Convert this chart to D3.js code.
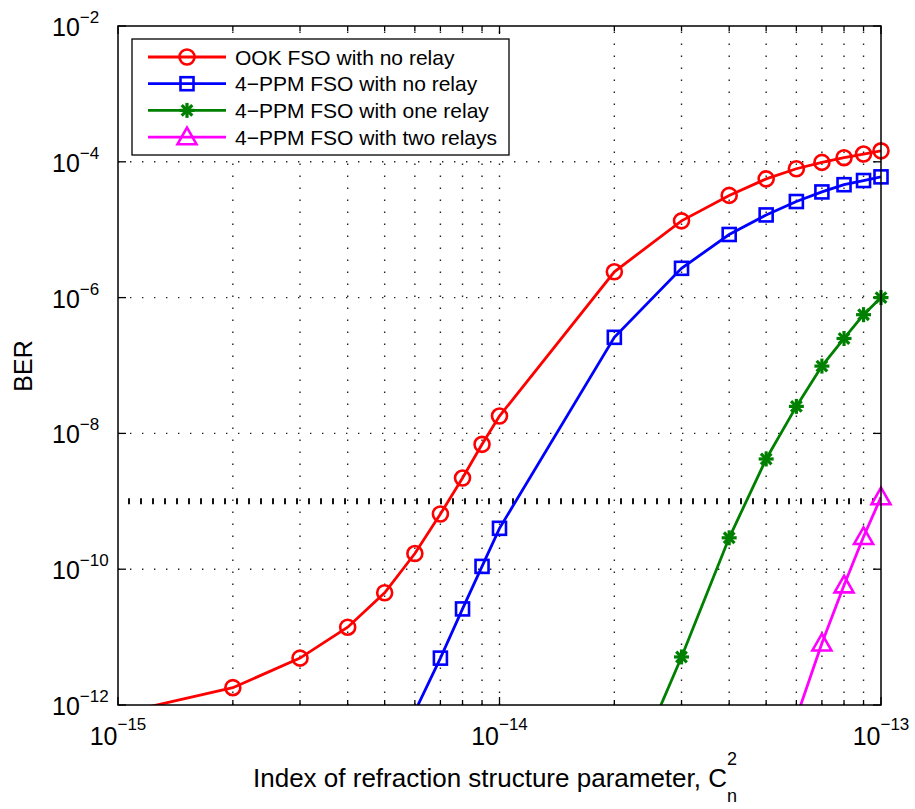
<!DOCTYPE html>
<html>
<head>
<meta charset="utf-8">
<script src="https://cdn.jsdelivr.net/npm/d3@7"></script>
<style>
  body { margin: 0; background: #fff; }
  text { font-family: "Liberation Sans", Arial, sans-serif; fill: #000; }
</style>
</head>
<body>
<script>
// values
const ookX = [1e-15, 2e-15, 3e-15, 4e-15, 5e-15, 6e-15, 7e-15, 8e-15, 9e-15, 1e-14,
              2e-14, 3e-14, 4e-14, 5e-14, 6e-14, 7e-14, 8e-14, 9e-14, 1e-13]
const ookBer = [7.4e-13, 1.8e-12, 4.9e-12, 1.4e-11, 4.5e-11, 1.7e-10, 6.5e-10, 2.2e-9, 6.9e-9, 1.8e-8,
                2.4e-6, 1.35e-5, 3.2e-5, 5.6e-5, 7.9e-5, 9.8e-5, 1.15e-4, 1.3e-4, 1.45e-4]

const ppmX = [6e-15, 7e-15, 8e-15, 9e-15, 1e-14, 2e-14, 3e-14, 4e-14, 5e-14, 6e-14, 7e-14, 8e-14, 9e-14, 1e-13]
const ppmBer = [8e-13, 4.9e-12, 2.6e-11, 1.1e-10, 4.0e-10, 2.6e-7, 2.7e-6, 8.5e-6, 1.65e-5, 2.6e-5, 3.6e-5, 4.6e-5, 5.3e-5, 6.0e-5]

const oneRelayX = [2e-14, 3e-14, 4e-14, 5e-14, 6e-14, 7e-14, 8e-14, 9e-14, 1e-13]
const oneRelayBer = [2.5e-14, 5.1e-12, 2.9e-10, 4.2e-9, 2.5e-8, 9.8e-8, 2.5e-7, 5.6e-7, 1.0e-6]

const twoRelayX = [6e-14, 7e-14, 8e-14, 9e-14, 1e-13]
const twoRelayBer = [6.5e-13, 8.1e-12, 5.8e-11, 3.0e-10, 1.15e-9]

const seriesNames = ['OOK FSO with no relay', '4\u2212PPM FSO with no relay',
                     '4\u2212PPM FSO with one relay', '4\u2212PPM FSO with two relays']
const seriesColors = ['#ff0000', '#0000ff', '#008000', '#ff00ff']
const seriesMarkers = ['circle', 'square', 'star', 'triangle']

const xTickExp = [-15, -14, -13]
const yTickExp = [-2, -4, -6, -8, -10, -12]
const threshold = 1e-9

const width = 915
const height = 809
const margin = {left: 118, top: 26, right: 881, bottom: 705}

const svg = d3.select('body')
    .append('svg')
    .attr('width', width)
    .attr('height', height)

const xScale = d3.scaleLog()
    .domain([1e-15, 1e-13])
    .range([margin.left, margin.right])

const yScale = d3.scaleLog()
    .domain([1e-12, 1e-2])
    .range([margin.bottom, margin.top])

// all x ticks 1..9 per decade
const xAll = []
for (let e = -15; e < -13; e++) {
    for (let m = 1; m < 10; m++) xAll.push(m * Math.pow(10, e))
}
xAll.push(1e-13)
const yMajor = yTickExp.map(e => Math.pow(10, e))

svg.append('clipPath').attr('id', 'plotclip')
    .append('rect')
    .attr('x', margin.left).attr('y', margin.top)
    .attr('width', margin.right - margin.left)
    .attr('height', margin.bottom - margin.top)

// grid
const grid = svg.append('g')
    .attr('stroke', '#222')
    .attr('stroke-width', 1.4)
    .attr('stroke-dasharray', '1.4 10.6')

grid.selectAll('.vg')
    .data(xAll.filter(d => d > 1e-15 && d < 1e-13))
    .join('line')
    .attr('x1', d => xScale(d)).attr('x2', d => xScale(d))
    .attr('y1', margin.bottom).attr('y2', margin.top)

grid.selectAll('.hg')
    .data(yMajor.filter(d => d > 1e-12 && d < 1e-2))
    .join('line')
    .attr('y1', d => yScale(d)).attr('y2', d => yScale(d))
    .attr('x1', margin.left).attr('x2', margin.right)

// 1e-9 threshold line
svg.append('line')
    .attr('x1', margin.left + 10).attr('x2', margin.right)
    .attr('y1', yScale(threshold)).attr('y2', yScale(threshold))
    .attr('stroke', '#111')
    .attr('stroke-width', 6)
    .attr('stroke-dasharray', '2 10')

// ticks (inside, on all four sides)
const ticks = svg.append('g').attr('stroke', '#000').attr('stroke-width', 1.3)
xAll.forEach(d => {
    const major = [1e-15, 1e-14, 1e-13].some(m => Math.abs(d / m - 1) < 1e-6)
    const len = major ? 8 : 5
    ticks.append('line')
        .attr('x1', xScale(d)).attr('x2', xScale(d))
        .attr('y1', margin.bottom).attr('y2', margin.bottom - len)
    ticks.append('line')
        .attr('x1', xScale(d)).attr('x2', xScale(d))
        .attr('y1', margin.top).attr('y2', margin.top + len)
})
yMajor.forEach(d => {
    ticks.append('line')
        .attr('x1', margin.left).attr('x2', margin.left + 8)
        .attr('y1', yScale(d)).attr('y2', yScale(d))
    ticks.append('line')
        .attr('x1', margin.right).attr('x2', margin.right - 8)
        .attr('y1', yScale(d)).attr('y2', yScale(d))
})

// tick labels
xTickExp.forEach(e => {
    const t = svg.append('text')
        .attr('x', xScale(Math.pow(10, e)))
        .attr('y', margin.bottom + 40)
        .attr('text-anchor', 'middle')
        .style('font-size', '25px')
    t.append('tspan').text('10')
    t.append('tspan').attr('dy', -15).style('font-size', '17px').text('\u2212' + Math.abs(e))
})
yTickExp.forEach(e => {
    const t = svg.append('text')
        .attr('x', 52)
        .attr('y', yScale(Math.pow(10, e)) + 10)
        .style('font-size', '25px')
    t.append('tspan').text('10')
    t.append('tspan').attr('dy', -13).style('font-size', '17px').text('\u2212' + Math.abs(e))
})

// axis labels
const xl = svg.append('text')
    .attr('x', 253).attr('y', 787)
    .style('font-size', '26px')
xl.append('tspan').text('Index of refraction structure parameter, C')
xl.append('tspan').attr('dy', 15).style('font-size', '18px').text('n')
xl.append('tspan').attr('dx', -10).attr('dy', -37).style('font-size', '18px').text('2')

svg.append('text')
    .attr('transform', 'translate(32,366) rotate(-90)')
    .attr('text-anchor', 'middle')
    .style('font-size', '25px')
    .text('BER')

// series
const allSeries = [
    {x: ookX, y: ookBer},
    {x: ppmX, y: ppmBer},
    {x: oneRelayX, y: oneRelayBer},
    {x: twoRelayX, y: twoRelayBer}
]

function drawMarker(g, type, color, cx, cy) {
    if (type === 'circle') {
        g.append('circle').attr('cx', cx).attr('cy', cy).attr('r', 7.5)
            .attr('fill', 'none').attr('stroke', color).attr('stroke-width', 2.6)
    } else if (type === 'square') {
        g.append('rect').attr('x', cx - 6.5).attr('y', cy - 6.5)
            .attr('width', 13).attr('height', 13)
            .attr('fill', 'none').attr('stroke', color).attr('stroke-width', 2.6)
    } else if (type === 'star') {
        const r = 7.5
        ;[0, 45, 90, 135].forEach(a => {
            const rad = a * Math.PI / 180
            g.append('line')
                .attr('x1', cx - r * Math.cos(rad)).attr('y1', cy - r * Math.sin(rad))
                .attr('x2', cx + r * Math.cos(rad)).attr('y2', cy + r * Math.sin(rad))
                .attr('stroke', color).attr('stroke-width', 3.2)
        })
    } else if (type === 'triangle') {
        const s = 9.5
        g.append('path')
            .attr('d', `M${cx},${cy - s} L${cx + s},${cy + s * 0.75} L${cx - s},${cy + s * 0.75} Z`)
            .attr('fill', 'none').attr('stroke', color).attr('stroke-width', 2.6)
    }
}

const line = d3.line()
    .x(d => xScale(d[0]))
    .y(d => yScale(d[1]))

allSeries.forEach((s, i) => {
    const pts = s.x.map((x, j) => [x, s.y[j]])
    svg.append('path')
        .datum(pts)
        .attr('clip-path', 'url(#plotclip)')
        .attr('fill', 'none')
        .attr('stroke', seriesColors[i])
        .attr('stroke-width', 2.8)
        .attr('d', line)
    const g = svg.append('g')
    pts.filter(p => p[1] >= 1e-12 && p[0] >= 1e-15)
        .forEach(p => drawMarker(g, seriesMarkers[i], seriesColors[i], xScale(p[0]), yScale(p[1])))
})

// axes box
svg.append('rect')
    .attr('x', margin.left).attr('y', margin.top)
    .attr('width', margin.right - margin.left)
    .attr('height', margin.bottom - margin.top)
    .attr('fill', 'none')
    .attr('stroke', '#000')
    .attr('stroke-width', 1.5)

// legend
const legend = svg.append('g')
legend.append('rect')
    .attr('x', 132).attr('y', 39)
    .attr('width', 377).attr('height', 116)
    .attr('fill', '#fff')
    .attr('stroke', '#000')
    .attr('stroke-width', 1.3)
seriesNames.forEach((name, i) => {
    const ly = 57 + i * 26.7
    legend.append('line')
        .attr('x1', 148).attr('x2', 226)
        .attr('y1', ly).attr('y2', ly)
        .attr('stroke', seriesColors[i]).attr('stroke-width', 2.8)
    drawMarker(legend, seriesMarkers[i], seriesColors[i], 187, ly)
    legend.append('text')
        .attr('x', 235).attr('y', ly + 7.5)
        .style('font-size', '21px')
        .text(name)
})
</script>
</body>
</html>
